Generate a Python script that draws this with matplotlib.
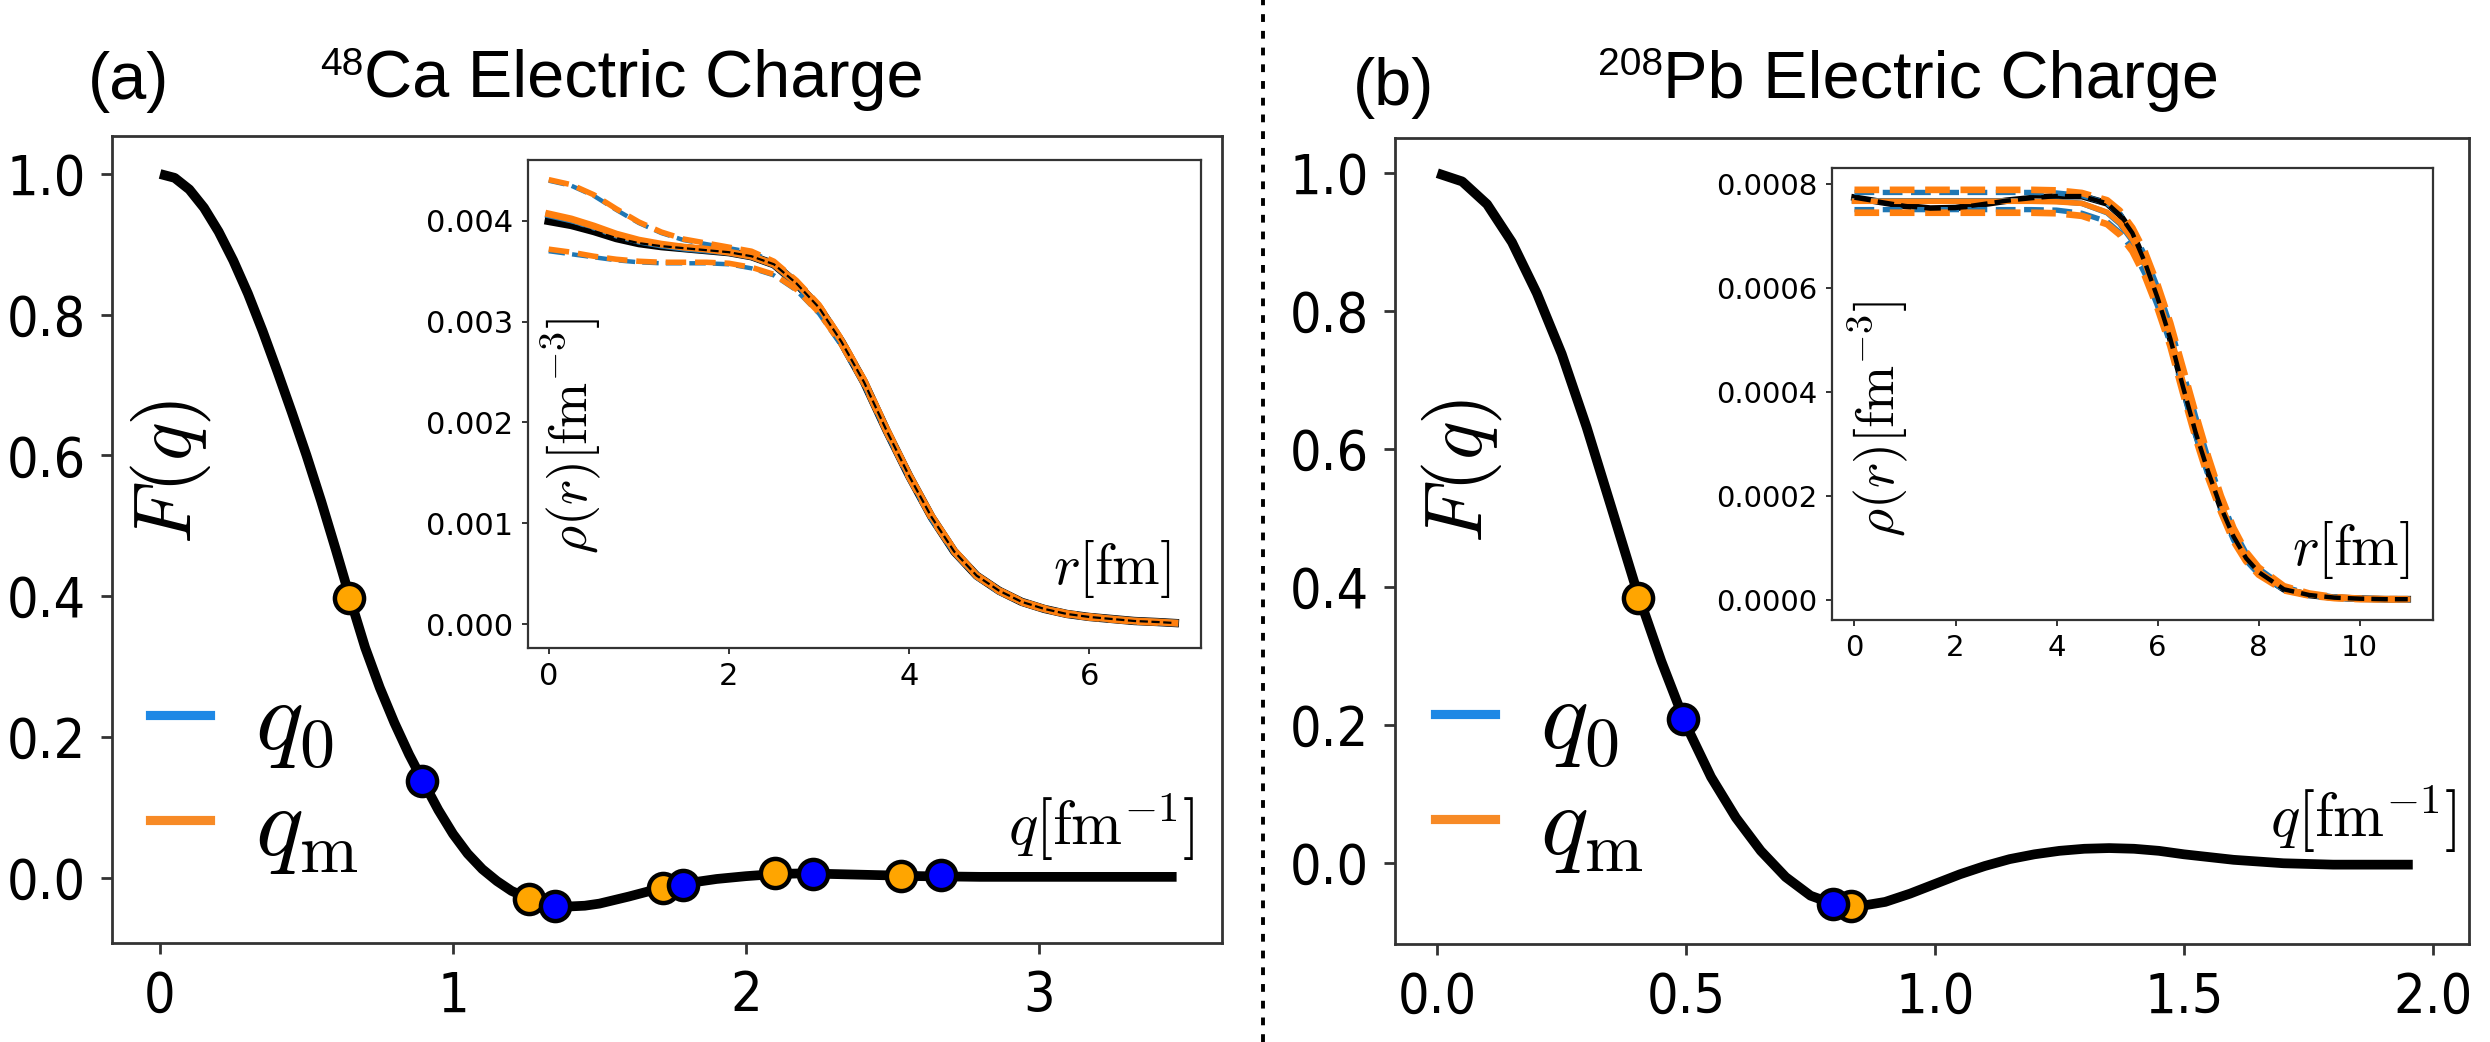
import matplotlib
matplotlib.use("Agg")
import matplotlib.pyplot as plt
from matplotlib.font_manager import FontProperties
from matplotlib.lines import Line2D

plt.rcParams['mathtext.fontset'] = 'cm'
plt.rcParams['font.family'] = ['DejaVu Sans']

W, H = 2490, 1042
DPI = 200

# ---------------- data: main form factors ----------------
q_ca = [0.0, 0.05, 0.1, 0.15, 0.2, 0.25, 0.3, 0.35, 0.4, 0.45, 0.5, 0.55, 0.6, 0.65,
        0.7, 0.75, 0.8, 0.85, 0.9, 0.95, 1.0, 1.05, 1.1, 1.15, 1.2, 1.25, 1.3, 1.35,
        1.4, 1.45, 1.5, 1.6, 1.7, 1.8, 1.9, 2.0, 2.1, 2.2, 2.3, 2.4, 2.5, 2.6, 2.8,
        3.0, 3.2, 3.47]
F_ca = [1.0, 0.9945, 0.978, 0.952, 0.918, 0.877, 0.83, 0.777, 0.72, 0.661, 0.60,
        0.535, 0.466, 0.395, 0.327, 0.27, 0.22, 0.175, 0.135, 0.096, 0.062, 0.034,
        0.012, -0.005, -0.019, -0.028, -0.035, -0.039, -0.041, -0.040, -0.037, -0.027,
        -0.016, -0.008, -0.002, 0.002, 0.005, 0.006, 0.005, 0.004, 0.003, 0.002, 0.001,
        0.001, 0.001, 0.001]
qm_ca = [0.645, 1.259, 1.717, 2.10, 2.53]
Fm_ca = [0.397, -0.030, -0.015, 0.006, 0.002]
q0_ca = [0.895, 1.349, 1.785, 2.228, 2.667]
F0_ca = [0.137, -0.040, -0.010, 0.005, 0.003]

q_pb = [0.0, 0.05, 0.10, 0.15, 0.20, 0.25, 0.30, 0.35, 0.40, 0.45, 0.50, 0.55, 0.60,
        0.65, 0.70, 0.75, 0.80, 0.85, 0.90, 0.95, 1.00, 1.05, 1.10, 1.15, 1.20, 1.25,
        1.30, 1.35, 1.40, 1.45, 1.50, 1.55, 1.60, 1.70, 1.80, 1.90, 1.96]
F_pb = [1.0, 0.988, 0.955, 0.900, 0.826, 0.738, 0.632, 0.515, 0.397, 0.293, 0.200,
        0.125, 0.066, 0.018, -0.020, -0.047, -0.060, -0.062, -0.056, -0.044, -0.030,
        -0.016, -0.004, 0.006, 0.013, 0.018, 0.021, 0.022, 0.021, 0.018, 0.013, 0.009,
        0.005, 0.000, -0.002, -0.002, -0.002]
qm_pb = [0.404, 0.832]
Fm_pb = [0.385, -0.062]
q0_pb = [0.494, 0.795]
F0_pb = [0.209, -0.059]

# ---------------- data: inset densities ----------------
r_ca = [0.0, 0.25, 0.5, 0.75, 1.0, 1.25, 1.5, 1.75, 2.0, 2.25, 2.5, 2.75, 3.0, 3.25,
        3.5, 3.75, 4.0, 4.25, 4.5, 4.75, 5.0, 5.25, 5.5, 5.75, 6.0, 6.25, 6.5, 6.75, 6.95]
rho_ca_ref = [0.00400, 0.00396, 0.00390, 0.00383, 0.00378, 0.00375, 0.00373, 0.00371,
              0.00369, 0.00365, 0.00357, 0.00338, 0.00314, 0.00280, 0.00240, 0.00192,
              0.00147, 0.00106, 0.00072, 0.00048, 0.00033, 0.00022, 0.00015, 0.00010,
              0.00007, 0.00005, 0.00003, 0.00002, 0.00001]
rho_ca_m = [0.00407, 0.00402, 0.00395, 0.00387, 0.00381, 0.00377, 0.00374, 0.00372,
            0.00369, 0.00365, 0.00357, 0.00339, 0.00315, 0.00281, 0.00241, 0.00193,
            0.00148, 0.00107, 0.00073, 0.00048, 0.00033, 0.00022, 0.00015, 0.00010,
            0.00007, 0.00005, 0.00003, 0.00002, 0.00001]
rho_ca_m_hi = [0.00441, 0.00436, 0.00426, 0.00412, 0.00399, 0.00389, 0.00382, 0.00378,
               0.00374, 0.00370, 0.00360, 0.00341, 0.00317, 0.00283, 0.00243, 0.00195,
               0.00149, 0.00108, 0.00074, 0.00049, 0.00034, 0.00023, 0.00016, 0.00011,
               0.00008, 0.00005, 0.00003, 0.00002, 0.00001]
rho_ca_m_lo = [0.00372, 0.00369, 0.00365, 0.00362, 0.00360, 0.00359, 0.00359, 0.00359,
               0.00358, 0.00354, 0.00347, 0.00332, 0.00309, 0.00277, 0.00238, 0.00190,
               0.00145, 0.00104, 0.00071, 0.00047, 0.00032, 0.00021, 0.00014, 0.00009,
               0.00006, 0.00004, 0.00002, 0.00001, 0.00001]
rho_ca_0 = [0.00406, 0.00401, 0.00394, 0.00386, 0.00380, 0.00376, 0.00373, 0.00371,
            0.00369, 0.00365, 0.00357, 0.00338, 0.00314, 0.00280, 0.00240, 0.00192,
            0.00147, 0.00106, 0.00072, 0.00048, 0.00033, 0.00022, 0.00015, 0.00010,
            0.00007, 0.00005, 0.00003, 0.00002, 0.00001]
rho_ca_0_hi = [0.00440, 0.00435, 0.00425, 0.00411, 0.00398, 0.00388, 0.00381, 0.00377,
               0.00373, 0.00369, 0.00359, 0.00340, 0.00316, 0.00282, 0.00242, 0.00194,
               0.00148, 0.00107, 0.00073, 0.00048, 0.00033, 0.00022, 0.00015, 0.00010,
               0.00007, 0.00005, 0.00003, 0.00002, 0.00001]
rho_ca_0_lo = [0.00370, 0.00367, 0.00364, 0.00361, 0.00359, 0.00358, 0.00358, 0.00358,
               0.00357, 0.00353, 0.00346, 0.00331, 0.00308, 0.00276, 0.00237, 0.00189,
               0.00144, 0.00103, 0.00070, 0.00046, 0.00031, 0.00021, 0.00014, 0.00009,
               0.00006, 0.00004, 0.00002, 0.00001, 0.00001]

r_pb = [0.0, 0.5, 1.0, 1.5, 2.0, 2.5, 3.0, 3.5, 4.0, 4.5, 5.0, 5.25, 5.5, 5.75, 6.0,
        6.25, 6.5, 6.75, 7.0, 7.25, 7.5, 7.75, 8.0, 8.5, 9.0, 9.5, 10.0, 10.5, 10.95]
rho_pb_ref = [0.000773, 0.000765, 0.000757, 0.000752, 0.000753, 0.000760, 0.000767,
              0.000772, 0.000776, 0.000776, 0.000762, 0.000740, 0.000705, 0.000648,
              0.000580, 0.000502, 0.000410, 0.000322, 0.000246, 0.000178, 0.000122,
              0.000080, 0.000053, 0.000020, 0.000009, 0.000004, 0.000002, 0.000001,
              0.000001]
rho_pb_m = [0.000766, 0.000766, 0.000766, 0.000766, 0.000766, 0.000766, 0.000766,
            0.000766, 0.000765, 0.000762, 0.000745, 0.000725, 0.000693, 0.000645,
            0.000583, 0.000510, 0.000420, 0.000335, 0.000255, 0.000185, 0.000125,
            0.000083, 0.000055, 0.000022, 0.000010, 0.000004, 0.000002, 0.000001,
            0.000001]
rho_pb_m_hi = [0.000788, 0.000788, 0.000788, 0.000788, 0.000788, 0.000788, 0.000788,
               0.000788, 0.000787, 0.000782, 0.000768, 0.000748, 0.000715, 0.000668,
               0.000605, 0.000532, 0.000445, 0.000358, 0.000275, 0.000200, 0.000138,
               0.000092, 0.000062, 0.000026, 0.000012, 0.000005, 0.000002, 0.000001,
               0.000001]
rho_pb_m_lo = [0.000744, 0.000744, 0.000744, 0.000744, 0.000744, 0.000744, 0.000744,
               0.000744, 0.000743, 0.000738, 0.000722, 0.000702, 0.000670, 0.000622,
               0.000560, 0.000488, 0.000398, 0.000312, 0.000235, 0.000170, 0.000113,
               0.000074, 0.000048, 0.000018, 0.000008, 0.000003, 0.000001, 0.000001,
               0.000001]
rho_pb_0 = [0.000767, 0.000767, 0.000767, 0.000767, 0.000767, 0.000767, 0.000767,
            0.000767, 0.000766, 0.000762, 0.000744, 0.000723, 0.000690, 0.000642,
            0.000580, 0.000507, 0.000417, 0.000332, 0.000252, 0.000183, 0.000123,
            0.000082, 0.000054, 0.000021, 0.000010, 0.000004, 0.000002, 0.000001,
            0.000001]
rho_pb_0_hi = [0.000783, 0.000783, 0.000783, 0.000783, 0.000783, 0.000783, 0.000783,
               0.000783, 0.000782, 0.000777, 0.000762, 0.000742, 0.000709, 0.000662,
               0.000600, 0.000527, 0.000440, 0.000353, 0.000271, 0.000197, 0.000135,
               0.000090, 0.000060, 0.000025, 0.000011, 0.000005, 0.000002, 0.000001,
               0.000001]
rho_pb_0_lo = [0.000750, 0.000750, 0.000750, 0.000750, 0.000750, 0.000750, 0.000750,
               0.000750, 0.000749, 0.000743, 0.000727, 0.000706, 0.000674, 0.000626,
               0.000564, 0.000492, 0.000402, 0.000316, 0.000238, 0.000172, 0.000115,
               0.000075, 0.000049, 0.000019, 0.000008, 0.000003, 0.000001, 0.000001,
               0.000001]

# tick labels
xt_ca = [0, 1, 2, 3]
xt_pb = [0.0, 0.5, 1.0, 1.5, 2.0]
yt_main = [0.0, 0.2, 0.4, 0.6, 0.8, 1.0]
xt_in_ca = [0, 2, 4, 6]
yt_in_ca = [0.000, 0.001, 0.002, 0.003, 0.004]
xt_in_pb = [0, 2, 4, 6, 8, 10]
yt_in_pb = [0.0000, 0.0002, 0.0004, 0.0006, 0.0008]

C_BLUE_LEG = '#1E88E5'
C_ORANGE_LEG = '#F78A26'
C0 = '#1f77b4'
C1 = '#ff7f0e'
SPINE = '#333333'

fig = plt.figure(figsize=(W / DPI, H / DPI), dpi=DPI)


def rect(l, r, t, b):
    return [l / W, 1 - b / H, (r - l) / W, (b - t) / H]


def fx(x):
    return x / W


def fy(y):
    return 1 - y / H


tick_fp = FontProperties(family='DejaVu Sans', stretch='condensed', size=20)


def style_main(ax, xt, xfmt):
    ax.set_xticks(xt)
    ax.set_xticklabels([xfmt.format(v) for v in xt])
    ax.set_yticks(yt_main)
    ax.set_yticklabels(['{:.1f}'.format(v) for v in yt_main])
    ax.tick_params(length=4, width=1.0, pad=5.5, color=SPINE)
    for lab in ax.get_xticklabels() + ax.get_yticklabels():
        lab.set_fontproperties(tick_fp)
    for s in ax.spines.values():
        s.set_linewidth(1.0)
        s.set_color(SPINE)


def style_inset(ax, xt, yt, yfmt, size):
    ax.set_xticks(xt)
    ax.set_xticklabels([str(v) for v in xt])
    ax.set_yticks(yt)
    ax.set_yticklabels([yfmt.format(v) for v in yt])
    ax.tick_params(length=2.2, width=0.7, pad=3, labelsize=size, color=SPINE)
    for s in ax.spines.values():
        s.set_linewidth(0.8)
        s.set_color(SPINE)


def main_panel(rc, q, F, qm, Fm, q0, F0, xt, xfmt, xlim, ylim, flab, qlab, leg):
    ax = fig.add_axes(rc)
    ax.plot(q, F, color='black', lw=3.5, solid_capstyle='butt', zorder=2)
    ax.plot(qm, Fm, 'o', ms=10.5, mfc='#FFA500', mec='black', mew=1.6, zorder=3)
    ax.plot(q0, F0, 'o', ms=10.5, mfc='#0000FF', mec='black', mew=1.6, zorder=4)
    ax.set_xlim(*xlim)
    ax.set_ylim(*ylim)
    style_main(ax, xt, xfmt)
    ax.text(flab[0], flab[1], r'$F(q)$', transform=ax.transAxes, rotation=90,
            ha='center', va='center', fontsize=29)
    ax.text(qlab[0], qlab[1], r'$q[\mathrm{fm}^{-1}]$', transform=ax.transAxes,
            ha='right', va='baseline', fontsize=22)
    hs = [Line2D([], [], color=C_BLUE_LEG, lw=3.3),
          Line2D([], [], color=C_ORANGE_LEG, lw=3.3)]
    ax.legend(hs, [r'$q_0$', r'$q_{\mathrm{m}}$'], loc='center left',
              bbox_to_anchor=leg, frameon=False, fontsize=36, handlelength=0.6,
              handletextpad=0.45, labelspacing=0.08, borderpad=0, borderaxespad=0)
    return ax


def inset_panel(rc, r, ref, m, mhi, mlo, z, zhi, zlo, xlim, ylim, xt, yt, yfmt, tsize,
                rholab, rlab, lw_ref, lw_m, lw_d, lw_refd):
    ax = fig.add_axes(rc)
    ax.plot(r, ref, color='black', lw=lw_ref, zorder=2)
    ax.plot(r, z, color=C0, lw=lw_m, zorder=3)
    ax.plot(r, zhi, color=C0, lw=lw_d * 0.8, ls='--', zorder=3)
    ax.plot(r, zlo, color=C0, lw=lw_d * 0.8, ls='--', zorder=3)
    ax.plot(r, m, color=C1, lw=lw_m, zorder=4)
    ax.plot(r, mhi, color=C1, lw=lw_d, ls='--', zorder=4)
    ax.plot(r, mlo, color=C1, lw=lw_d, ls='--', zorder=4)
    ax.plot(r, ref, color='black', lw=lw_refd, ls='--', zorder=5)
    ax.set_xlim(*xlim)
    ax.set_ylim(*ylim)
    style_inset(ax, xt, yt, yfmt, tsize)
    ax.text(rholab[0], rholab[1], r'$\rho(r)[\mathrm{fm}^{-3}]$', transform=ax.transAxes,
            rotation=90, ha='center', va='center', fontsize=19.5)
    ax.text(rlab[0], rlab[1], r'$r[\mathrm{fm}]$', transform=ax.transAxes,
            ha='right', va='baseline', fontsize=20.5)
    return ax


main_panel(rect(112, 1222, 136, 943), q_ca, F_ca, qm_ca, Fm_ca, q0_ca, F0_ca,
           xt_ca, '{:d}', (-0.164, 3.625), (-0.093, 1.054),
           (0.053, 0.584), (0.975, 0.121), (0.034, 0.2076))
main_panel(rect(1395, 2469, 138, 944), q_pb, F_pb, qm_pb, Fm_pb, q0_pb, F0_pb,
           xt_pb, '{:.1f}', (-0.085, 2.073), (-0.117, 1.051),
           (0.0624, 0.587), (0.989, 0.133), (0.037, 0.2115))

inset_panel(rect(528, 1201, 160, 648), r_ca, rho_ca_ref, rho_ca_m, rho_ca_m_hi,
            rho_ca_m_lo, rho_ca_0, rho_ca_0_hi, rho_ca_0_lo,
            (-0.23, 7.24), (-0.000238, 0.004605), xt_in_ca, yt_in_ca, '{:.3f}', 11,
            (0.065, 0.434), (0.955, 0.132), 3.0, 2.5, 2.0, 0.8)
inset_panel(rect(1832, 2433, 168, 620), r_pb, rho_pb_ref, rho_pb_m, rho_pb_m_hi,
            rho_pb_m_lo, rho_pb_0, rho_pb_0_hi, rho_pb_0_lo,
            (-0.445, 11.45), (-0.000039, 0.00083), xt_in_pb, yt_in_pb, '{:.4f}', 10.5,
            (0.078, 0.444), (0.96, 0.121), 2.4, 2.0, 2.4, 1.6)

# titles
tfont = dict(family='Liberation Sans', fontsize=24, va='baseline', ha='left')
fig.text(fx(88), fy(99), '(a)', **tfont)
fig.text(fx(1353), fy(105), '(b)', **tfont)
fig.text(fx(320), fy(75), '48', family='Liberation Sans', fontsize=14,
         va='baseline', ha='left')
fig.text(fx(364), fy(97), 'Ca Electric Charge', **tfont)
fig.text(fx(1598), fy(75), '208', family='Liberation Sans', fontsize=14,
         va='baseline', ha='left')
fig.text(fx(1663), fy(98), 'Pb Electric Charge', **tfont)

# dashed divider
fig.add_artist(Line2D([fx(1263), fx(1263)], [0, 1], transform=fig.transFigure,
                      color='black', lw=1.4, dashes=(2.0, 2.3)))

fig.savefig('out.png', dpi=DPI)
